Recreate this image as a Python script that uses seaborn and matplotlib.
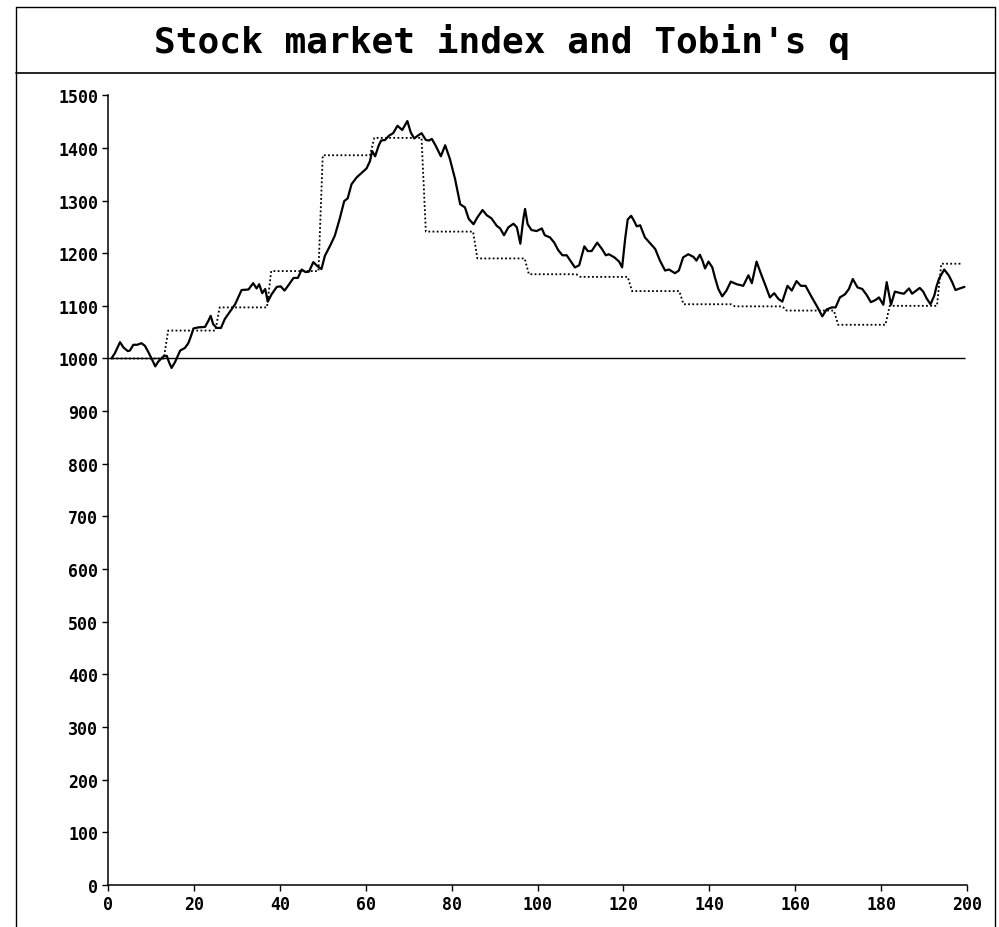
import numpy as np
import pandas as pd
import seaborn as sns
import matplotlib
matplotlib.use("Agg")
import matplotlib.pyplot as plt
from matplotlib.lines import Line2D

# Stock market index
index_t = [0.8, 1.6, 2.8, 3.6, 4.6, 5.1, 5.9, 6.8, 7.8, 8.6, 9.4, 10.2, 11.0, 11.7,
           12.9, 13.7, 14.2, 14.8, 15.6, 16.8, 17.9, 18.7, 19.3, 19.9, 21.0, 22.6,
           23.4, 23.9, 24.5, 25.3, 26.3, 27.2, 28.4, 29.6, 31.1, 32.7, 33.8, 34.6,
           35.2, 35.9, 36.6, 37.2, 38.1, 39.3, 40.2, 41.1, 42.0, 43.2, 44.2, 45.1,
           46.0, 46.8, 47.8, 48.8, 49.7, 50.5, 51.7, 52.8, 53.9, 55.0, 55.8, 56.7,
           57.9, 59.1, 60.2, 61.0, 61.5, 62.2, 63.0, 63.6, 64.5, 65.4, 66.4, 67.4,
           68.5, 69.7, 70.5, 71.3, 72.1, 73.0, 74.0, 74.7, 75.4, 76.3, 77.5, 78.5,
           79.6, 80.8, 82.0, 83.1, 84.0, 85.1, 86.0, 87.2, 88.2, 89.3, 90.5, 91.3,
           92.2, 93.2, 94.4, 95.2, 96.0, 96.7, 97.1, 97.7, 98.6, 99.8, 101.0, 101.7,
           102.9, 103.9, 104.8, 105.8, 106.8, 107.8, 108.7, 109.7, 110.9, 111.7,
           112.6, 113.9, 115.0, 115.9, 116.6, 117.9, 119.0, 119.7, 120.4, 121.0,
           121.8, 122.5, 123.1, 123.9, 125.0, 126.2, 127.4, 128.5, 129.7, 130.6,
           132.0, 132.9, 133.9, 135.1, 136.3, 137.0, 137.8, 138.4, 139.0, 139.8,
           140.7, 141.3, 142.1, 143.0, 144.0, 145.0, 146.4, 147.9, 149.1, 149.9,
           151.0, 152.2, 153.1, 154.1, 155.1, 156.1, 157.0, 158.2, 159.2, 160.3,
           161.3, 162.4, 163.8, 165.0, 166.3, 167.3, 168.5, 169.4, 170.4, 171.6,
           172.5, 173.4, 174.5, 175.6, 176.6, 177.6, 178.7, 179.5, 180.5, 181.3,
           182.3, 183.2, 184.6, 185.3, 186.5, 187.2, 188.0, 189.0, 189.8, 190.6,
           191.5, 192.4, 192.9, 193.5, 194.7, 195.8, 196.6, 197.3, 198.3, 199.4]
index_v = [1000, 1010, 1031, 1021, 1014, 1015, 1026, 1026, 1029, 1024, 1012, 999, 985, 994,
           1004, 1005, 993, 982, 993, 1015, 1020, 1029, 1042, 1057, 1059, 1060,
           1072, 1081, 1065, 1058, 1058, 1075, 1089, 1103, 1130, 1131, 1143, 1133,
           1141, 1124, 1132, 1108, 1122, 1136, 1137, 1129, 1139, 1153, 1153, 1169,
           1164, 1165, 1183, 1175, 1170, 1195, 1214, 1233, 1264, 1299, 1304, 1331,
           1344, 1353, 1361, 1375, 1394, 1384, 1404, 1414, 1415, 1423, 1428, 1442,
           1434, 1451, 1429, 1418, 1423, 1428, 1415, 1414, 1417, 1404, 1384, 1405,
           1379, 1341, 1293, 1287, 1265, 1255, 1268, 1282, 1272, 1266, 1252, 1247,
           1234, 1249, 1256, 1249, 1218, 1265, 1284, 1255, 1244, 1242, 1247, 1234,
           1230, 1220, 1206, 1196, 1196, 1184, 1173, 1177, 1213, 1204,
           1204, 1220, 1208, 1196, 1198, 1192, 1184, 1173, 1227, 1264,
           1271, 1261, 1251, 1253, 1230, 1219, 1208, 1186, 1167, 1169,
           1162, 1167, 1192, 1198, 1193, 1186, 1197, 1186, 1171, 1184,
           1173, 1154, 1132, 1118, 1129, 1146, 1141, 1138, 1158, 1143,
           1184, 1157, 1138, 1116, 1124, 1113, 1108, 1138, 1129, 1147,
           1138, 1138, 1117, 1100, 1080, 1093, 1097, 1097, 1116, 1122,
           1132, 1151, 1135, 1132, 1121, 1107, 1111, 1116, 1102, 1145,
           1102, 1127, 1124, 1123, 1133, 1123, 1128, 1134, 1127, 1114,
           1103, 1120, 1137, 1152, 1169, 1157, 1144, 1130, 1133, 1136]

# Tobin's q (scaled to the index), one level per quarter of 12 periods
q_levels = [1000, 1053, 1097, 1166, 1386, 1419, 1241, 1190, 1160,
            1155, 1128, 1103, 1099, 1091, 1064, 1100, 1180]
q_lengths = [13, 12, 12, 12, 12, 12, 12, 12, 12, 12, 12, 12, 12, 12, 12, 12, 6]

x_ticks = list(range(0, 201, 20))
y_ticks = list(range(0, 1501, 100))
title = "Stock market index and Tobin's q"

q_v = np.repeat(q_levels, q_lengths)
q_t = np.arange(1, len(q_v) + 1)
df_index = pd.DataFrame({"t": index_t, "v": index_v})
df_q = pd.DataFrame({"t": q_t, "v": q_v})

sns.set_theme(style="ticks")
plt.rcParams["font.family"] = ["DejaVu Sans Mono"]

fig = plt.figure(figsize=(9.99, 9.28), dpi=100)
ax = fig.add_axes([0.1081, 0.0453, 0.8599, 0.8510])

ax.hlines(1000, 0, 199.5, color="black", linewidth=1.0)
sns.lineplot(data=df_q, x="t", y="v", ax=ax, color="black",
             linewidth=1.3, linestyle=(0, (1, 1.3)))
sns.lineplot(data=df_index, x="t", y="v", ax=ax, color="black", linewidth=1.6)

ax.set_xlim(0, 200)
ax.set_ylim(0, 1500)
ax.set_xticks(x_ticks)
ax.set_yticks(y_ticks)
ax.set_xlabel("")
ax.set_ylabel("")
for s in ["top", "right"]:
    ax.spines[s].set_visible(False)
for s in ["left", "bottom"]:
    ax.spines[s].set_linewidth(1.1)
    ax.spines[s].set_color("black")
ax.tick_params(axis="both", length=4, width=1.0, color="black",
               labelsize=12, labelcolor="black", pad=3)
for lab in ax.get_xticklabels() + ax.get_yticklabels():
    lab.set_fontweight("bold")

# outer frame and title box
fig.add_artist(Line2D([0.016, 0.016], [0.0, 0.9914], color="black", linewidth=1.0))
fig.add_artist(Line2D([0.996, 0.996], [0.0, 0.9914], color="black", linewidth=1.0))
fig.add_artist(Line2D([0.016, 0.996], [0.9914, 0.9914], color="black", linewidth=1.0))
fig.add_artist(Line2D([0.016, 0.996], [0.9203, 0.9203], color="black", linewidth=1.2))
fig.text(0.503, 0.9547, title, ha="center", va="center",
         fontsize=26, fontweight="bold", color="black")

fig.savefig("out.png", dpi=100, facecolor="white")
